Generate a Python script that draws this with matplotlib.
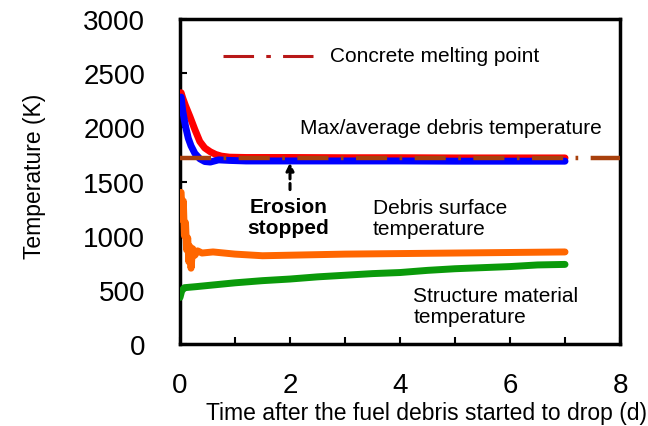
import matplotlib
matplotlib.use("Agg")
import matplotlib.pyplot as plt
from matplotlib.lines import Line2D

plt.rcParams['font.family'] = ['Liberation Sans', 'DejaVu Sans']

# Max debris temperature (red)
t_max = [0.02, 0.05, 0.1, 0.18, 0.27, 0.36, 0.45, 0.55, 0.65, 0.75, 0.9, 1.2, 2.0, 3.0, 4.0, 5.0, 6.0, 7.0]
T_max = [2320, 2270, 2200, 2100, 1980, 1870, 1810, 1775, 1750, 1735, 1725, 1722, 1722, 1720, 1720, 1718, 1718, 1718]
# Average debris temperature (blue)
t_avg = [0.02, 0.05, 0.1, 0.15, 0.2, 0.27, 0.36, 0.45, 0.55, 0.7, 0.9, 1.2, 2.0, 3.0, 4.0, 5.0, 6.0, 7.0]
T_avg = [2280, 2150, 2010, 1900, 1830, 1760, 1710, 1685, 1680, 1700, 1695, 1690, 1690, 1690, 1690, 1688, 1688, 1688]
# Debris surface temperature (orange)
t_surf = [0.02, 0.04, 0.06, 0.08, 0.1, 0.12, 0.14, 0.16, 0.18, 0.2, 0.23, 0.27, 0.32, 0.4, 0.6, 1.0, 1.5, 2.0, 3.0, 4.0, 5.0, 6.0, 7.0]
T_surf = [1400, 1150, 1320, 1000, 1120, 870, 980, 760, 900, 700, 880, 820, 860, 840, 850, 830, 815, 820, 830, 835, 840, 845, 850]
# Structure material temperature (green)
t_str = [0.0, 0.03, 0.08, 0.3, 0.6, 1.0, 1.5, 2.0, 2.5, 3.0, 3.5, 4.0, 4.5, 5.0, 5.5, 6.0, 6.5, 7.0]
T_str = [430, 490, 520, 530, 545, 565, 585, 600, 620, 635, 650, 660, 680, 695, 705, 715, 730, 735]
# Concrete melting point
melt_T = 1720
melt_t = [0.0, 8.0]

fig = plt.figure(figsize=(6.48, 4.27), dpi=100)
ax = fig.add_axes([0.2778, 0.192, 0.679, 0.761])

ax.plot(t_str, T_str, color='#0A9A0A', lw=5, solid_capstyle='round', zorder=3)
ax.plot(t_surf, T_surf, color='#FF6600', lw=5, solid_capstyle='round', zorder=3)
ax.plot(t_max, T_max, color='#FF0000', lw=5, solid_capstyle='round', zorder=3)
ax.plot(t_avg, T_avg, color='#0000FF', lw=5, solid_capstyle='round', zorder=4)
ax.plot(melt_t, [melt_T, melt_T], color='#A8400C', lw=3.2, linestyle=(0, (7, 2.8, 0.6, 2.8)), zorder=5)

ax.set_xlim(0, 8)
ax.set_ylim(0, 3000)
ax.set_xticks([0, 2, 4, 6, 8])
ax.set_xticks([1, 3, 5, 7], minor=True)
ax.set_yticks([0, 500, 1000, 1500, 2000, 2500, 3000])
ax.tick_params(axis='both', which='both', direction='in', length=5, width=1.5, labelsize=20)
ax.tick_params(axis='x', pad=20)
ax.tick_params(axis='y', pad=25)
for s in ax.spines.values():
    s.set_linewidth(2.5)

ax.set_xlabel('Time after the fuel debris started to drop (d)', fontsize=16.5)
ax.xaxis.set_label_coords(0.561, -0.175)
ax.set_ylabel('Temperature (K)', fontsize=16.5)
ax.yaxis.set_label_coords(-0.305, 0.52)

# legend-like sample for concrete melting point
ax.add_line(Line2D([0.78, 2.42], [2660, 2660], color='#B81818', lw=2.2,
                   linestyle=(0, (10, 4, 1.5, 4))))
ax.text(2.72, 2660, 'Concrete melting point', fontsize=15, va='center', ha='left')
ax.text(2.18, 2000, 'Max/average debris temperature', fontsize=15, va='center', ha='left')
ax.text(1.97, 1172, 'Erosion\nstopped', fontsize=15, fontweight='bold', va='center', ha='center', linespacing=1.1)
ax.text(3.5, 1163, 'Debris surface\ntemperature', fontsize=15, va='center', ha='left', linespacing=1.1)
ax.text(4.24, 350, 'Structure material\ntemperature', fontsize=15, va='center', ha='left', linespacing=1.1)
ax.annotate('', xy=(2.0, 1700), xytext=(2.0, 1400),
            arrowprops=dict(arrowstyle='-|>', color='black', lw=2.2, linestyle=(0, (2, 1.5)),
                            mutation_scale=11), zorder=6)

fig.savefig('out.png', dpi=100)
